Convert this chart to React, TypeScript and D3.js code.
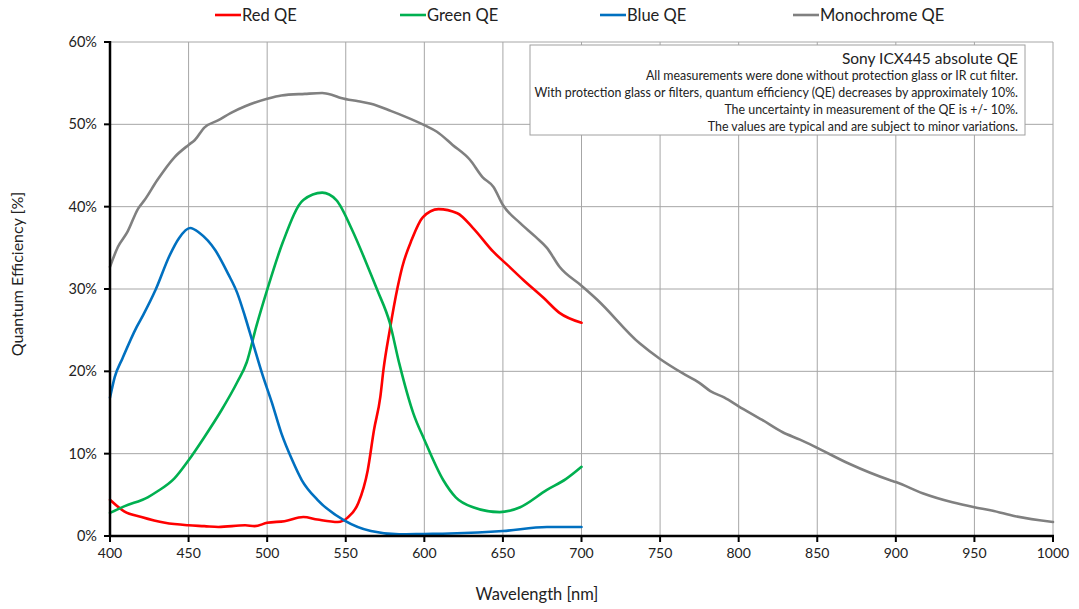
import React from "react";
import * as d3 from "d3";

const monoNm = [400, 405, 411, 418, 422, 430, 441, 450, 454, 460, 469, 477, 486, 500, 509, 524, 535, 541, 547, 558, 566, 579, 587, 600, 608, 618, 629, 637, 644, 650, 661, 671, 678, 686, 700, 710, 737, 750, 764, 775, 782, 791, 800, 815, 828, 839, 850, 870, 896, 900, 917, 936, 950, 961, 976, 1000];
const monoQE = [32.7, 35.1, 36.9, 39.8, 40.8, 43.2, 46.0, 47.5, 48.1, 49.6, 50.5, 51.4, 52.2, 53.1, 53.5, 53.7, 53.8, 53.6, 53.2, 52.8, 52.5, 51.6, 51.0, 49.9, 49.1, 47.5, 45.7, 43.6, 42.4, 40.2, 38.0, 36.3, 35.0, 32.7, 30.4, 28.7, 23.4, 21.5, 19.8, 18.6, 17.6, 16.8, 15.75, 14.1, 12.6, 11.7, 10.7, 8.8, 6.8, 6.55, 5.2, 4.1, 3.5, 3.1, 2.4, 1.7];

const blueNm = [400, 403, 408, 417, 421, 429, 438, 444, 451, 457, 467, 475, 481, 486, 491, 497, 503, 509, 516, 522, 532, 549, 566, 584, 600, 616, 650, 678, 700];
const blueQE = [16.8, 19.3, 21.6, 25.4, 26.8, 29.9, 34.1, 36.2, 37.4, 36.8, 34.7, 31.9, 29.5, 26.6, 23.4, 19.6, 16.2, 12.5, 9.2, 6.8, 4.4, 1.9, 0.6, 0.2, 0.25, 0.3, 0.6, 1.1, 1.1];

const greenNm = [400, 409, 424, 430, 441, 450, 460, 471, 481, 487, 493, 500, 510, 523, 535, 544, 554, 563, 570, 578, 584, 593, 600, 612, 620, 631, 648, 661, 678, 690, 700];
const greenQE = [2.8, 3.6, 4.7, 5.4, 7.0, 9.2, 12.0, 15.3, 18.7, 21.1, 25.4, 29.9, 35.7, 40.8, 41.7, 40.8, 37.2, 33.2, 29.9, 25.9, 21.0, 14.9, 11.7, 6.8, 4.7, 3.5, 2.9, 3.5, 5.6, 6.9, 8.4];

const redNm = [400, 409, 420, 435, 450, 460, 469, 486, 492, 500, 511, 523, 532, 545, 551, 558, 564, 568, 572, 574, 578, 583, 586, 592, 599, 609, 621, 631, 644, 653, 663, 676, 686, 700];
const redQE = [4.4, 3.0, 2.3, 1.6, 1.3, 1.2, 1.1, 1.3, 1.2, 1.6, 1.8, 2.3, 2.0, 1.7, 2.2, 4.0, 8.0, 12.9, 16.9, 20.2, 25.0, 30.2, 32.7, 36.0, 38.7, 39.7, 39.2, 37.4, 34.5, 32.9, 31.1, 28.9, 27.1, 25.9];

const seriesNames = ["Red QE", "Green QE", "Blue QE", "Monochrome QE"];
const seriesColors = ["#ff0000", "#00b050", "#0070c0", "#808080"];

const xTicks = [400, 450, 500, 550, 600, 650, 700, 750, 800, 850, 900, 950, 1000];
const yTicks = [0, 10, 20, 30, 40, 50, 60];

const noteTitle = "Sony ICX445 absolute QE";
const noteLines = [
  "All measurements were done without protection glass or IR cut filter.",
  "With protection glass or filters, quantum efficiency (QE) decreases by approximately 10%.",
  "The uncertainty in measurement of the QE is +/- 10%.",
  "The values are typical and are subject to minor variations.",
];

const FONT = "Lato, 'Open Sans', sans-serif";

export default function App() {
  const W = 1079, H = 609;
  const left = 110, right = 1053, top = 42, bottom = 536;
  const x = d3.scaleLinear().domain([400, 1000]).range([left, right]);
  const y = d3.scaleLinear().domain([0, 60]).range([bottom, top]);

  const seriesData = [
    redNm.map((n, i) => [n, redQE[i]]),
    greenNm.map((n, i) => [n, greenQE[i]]),
    blueNm.map((n, i) => [n, blueQE[i]]),
    monoNm.map((n, i) => [n, monoQE[i]]),
  ];
  const line = d3
    .line<number[]>()
    .x((d) => x(d[0]))
    .y((d) => y(d[1]))
    .curve(d3.curveMonotoneX);

  const legendX = [215, 400, 600, 793];

  return (
    <svg width={W} height={H} style={{ position: "absolute", left: 0, top: 0, background: "#fff" }} fontFamily={FONT}>
      <rect x={0} y={0} width={W} height={H} fill="#fff" />
      {yTicks.map((t) => (
        <line key={"gy" + t} x1={left} x2={right} y1={y(t)} y2={y(t)} stroke="#a6a6a6" strokeWidth={1} />
      ))}
      {xTicks.slice(1).map((t) => (
        <line key={"gx" + t} x1={x(t)} x2={x(t)} y1={top} y2={bottom} stroke="#a6a6a6" strokeWidth={1} />
      ))}
      {seriesData.map((d, i) => (
        <path key={i} d={line(d as any) || ""} fill="none" stroke={seriesColors[i]} strokeWidth={2.6} strokeLinejoin="round" strokeLinecap="round" />
      ))}
      <line x1={left} x2={left} y1={top - 1} y2={bottom + 1} stroke="#000" strokeWidth={2.5} />
      <line x1={left - 1} x2={right + 1} y1={bottom} y2={bottom} stroke="#000" strokeWidth={2.5} />
      {yTicks.map((t) => (
        <g key={"ty" + t}>
          <line x1={left - 6} x2={left} y1={y(t)} y2={y(t)} stroke="#000" strokeWidth={2} />
          <text x={left - 13} y={y(t)} dy="0.35em" textAnchor="end" fontSize={14.5} fill="#222">
            {t + "%"}
          </text>
        </g>
      ))}
      {xTicks.map((t) => (
        <g key={"tx" + t}>
          <line x1={x(t)} x2={x(t)} y1={bottom} y2={bottom + 6} stroke="#000" strokeWidth={2} />
          <text x={x(t)} y={bottom + 22} textAnchor="middle" fontSize={14} fill="#222">
            {t}
          </text>
        </g>
      ))}
      <text x={537} y={600} textAnchor="middle" fontSize={16.5} fill="#222">
        Wavelength [nm]
      </text>
      <text transform={`translate(23,274) rotate(-90)`} textAnchor="middle" fontSize={16} fill="#222">
        Quantum Efficiency [%]
      </text>
      {seriesNames.map((n, i) => (
        <g key={"lg" + i}>
          <line x1={legendX[i]} x2={legendX[i] + 26} y1={15} y2={15} stroke={seriesColors[i]} strokeWidth={2.6} />
          <text x={legendX[i] + 27} y={15} dy="0.35em" fontSize={16.5} fill="#222">
            {n}
          </text>
        </g>
      ))}
      <rect x={530} y={45} width={495} height={90} fill="#fff" stroke="#a0a0a0" strokeWidth={1} />
      <text x={1018} y={64} textAnchor="end" fontSize={15.5} fill="#222">
        {noteTitle}
      </text>
      {noteLines.map((l, i) => (
        <text key={"nl" + i} x={1018} y={80 + i * 17} textAnchor="end" fontSize={12.4} fill="#222">
          {l}
        </text>
      ))}
    </svg>
  );
}
